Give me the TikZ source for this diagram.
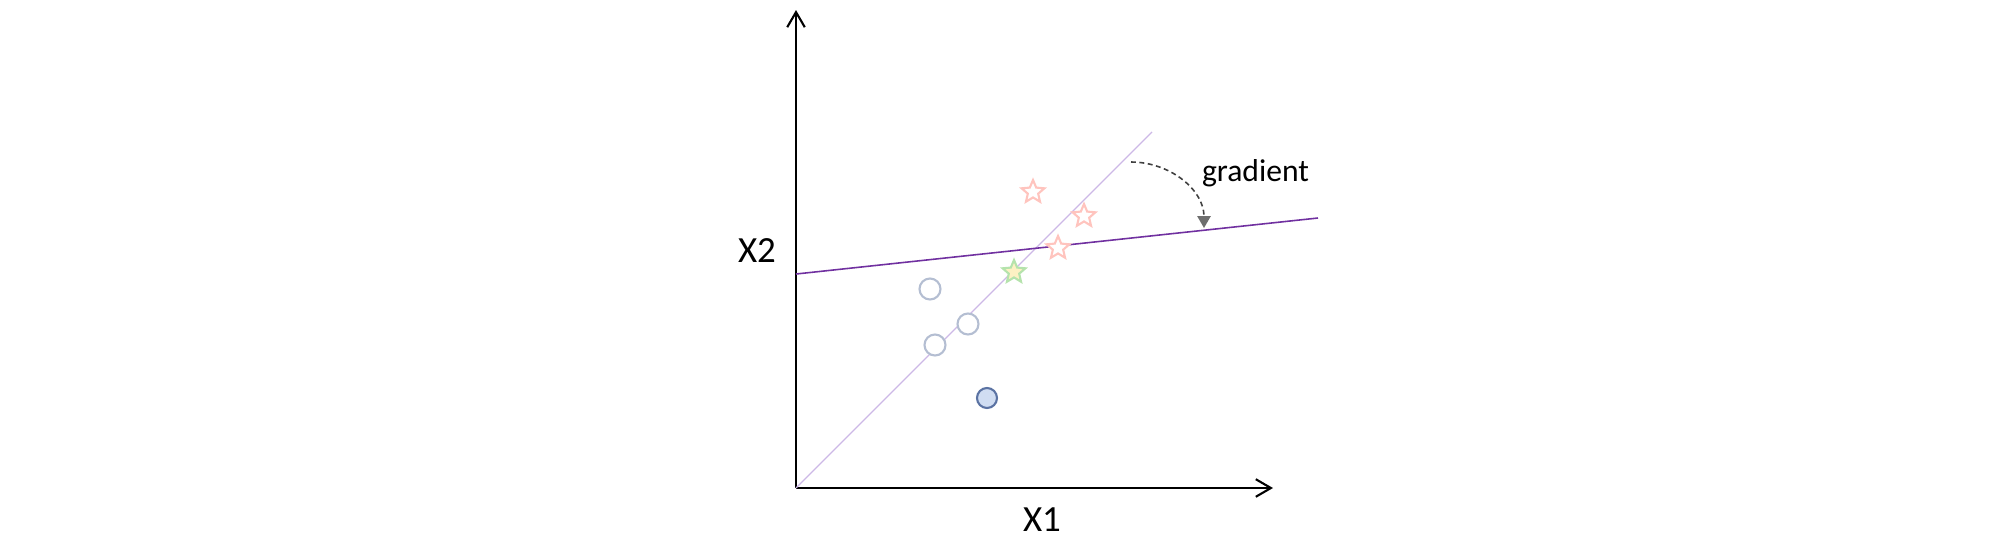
\documentclass[tikz,border=0pt]{standalone}
\usepackage{fontspec}
\setmainfont{Carlito}
\usetikzlibrary{arrows.meta,shapes.geometric}
\definecolor{dotline}{RGB}{180,190,210}
\definecolor{dotfill}{RGB}{208,221,242}
\definecolor{dotdark}{RGB}{91,115,163}
\definecolor{starred}{RGB}{255,196,190}
\definecolor{stargreen}{RGB}{181,227,172}
\definecolor{staryellow}{RGB}{253,241,195}
\definecolor{oldline}{RGB}{205,184,230}
\definecolor{newline}{RGB}{112,48,160}
\begin{document}
\begin{tikzpicture}[
  axis/.style={line width=0.6pt,-{Straight Barb[length=4.3pt,width=5pt]}},
  axislabel/.style={anchor=base,inner sep=0pt,font=\fontsize{10.5}{12}\selectfont},
  hollowdot/.style={circle,draw=dotline,fill=white,line width=0.6pt,inner sep=0pt,minimum size=0.21cm},
  fulldot/.style={circle,draw=dotdark,fill=dotfill,line width=0.6pt,inner sep=0pt,minimum size=0.2cm},
  redstar/.style={star,star points=5,star point ratio=2.2,draw=starred,fill=white,line width=0.6pt,inner sep=0pt,minimum size=0.24cm},
  greenstar/.style={redstar,draw=stargreen,fill=staryellow}
]
\useasboundingbox (0,0) rectangle (20,5.5);
\coordinate (O) at (7.96,0.62);
\coordinate (ytop) at (7.96,5.40);
\coordinate (xend) at (12.73,0.62);
\draw[axis] (O) -- (ytop);
\draw[axis] (O) -- (xend);
\node[axislabel] (lx2) at (7.57,2.88) {X2};
\node[axislabel] (lx1) at (10.42,0.19) {X1};
% old and new boundary
\coordinate (d1) at (11.52,4.18);
\draw[oldline,line width=0.35pt] (O) -- (d1);
\coordinate (b0) at (7.96,2.76);
\coordinate (b1) at (13.18,3.32);
\draw[newline,line width=0.45pt] (b0) -- (b1);
% samples
\node[hollowdot] (c1) at (9.30,2.61) {};
\node[hollowdot] (c2) at (9.68,2.26) {};
\node[hollowdot] (c3) at (9.35,2.05) {};
\node[fulldot] (c4) at (9.87,1.52) {};
\node[redstar] (s1) at (10.33,3.58) {};
\node[redstar] (s2) at (10.84,3.34) {};
\node[redstar] (s3) at (10.58,3.02) {};
\node[greenstar] (s4) at (10.14,2.78) {};
% rotation
\node[anchor=base,inner sep=0pt,font=\fontsize{9}{11}\selectfont] (grad) at (12.555,3.683) {gradient};
\coordinate (a0) at (11.31,3.88);
\coordinate (a1) at (12.04,3.22);
\draw[black!75,line width=0.45pt,dash pattern=on 1.4pt off 1pt,-{Triangle[length=3.4pt,width=3.8pt,color=black!57]}] (a0) to[out=0,in=90] (a1);
\end{tikzpicture}
\end{document}
